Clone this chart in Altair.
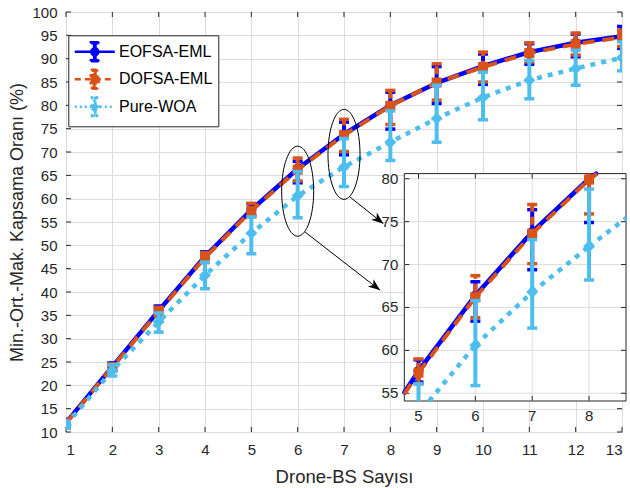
import math
import altair as alt
import pandas as pd

# ---------------- data ----------------
x_vals = list(range(1, 14))
series_names = ["EOFSA-EML", "DOFSA-EML", "Pure-WOA"]

eofsa_mean = [12.0, 24.0, 36.0, 47.6, 57.6, 66.4, 73.8, 80.0, 84.8, 88.4, 91.4, 93.4, 94.8]
eofsa_min = [11.3, 23.2, 35.0, 46.5, 56.3, 63.4, 69.4, 74.9, 80.4, 84.5, 88.8, 90.4, 92.2]
eofsa_max = [12.7, 24.8, 37.0, 48.6, 58.9, 68.0, 76.4, 82.8, 88.3, 91.0, 93.2, 95.3, 96.9]

dofsa_mean = [11.9, 23.9, 35.8, 47.4, 57.4, 66.2, 73.6, 79.9, 84.9, 88.2, 91.2, 93.1, 94.6]
dofsa_min = [11.2, 23.1, 34.8, 46.3, 56.1, 63.8, 70.1, 75.9, 81.1, 85.0, 89.3, 90.8, 92.6]
dofsa_max = [12.6, 24.6, 36.7, 48.4, 59.0, 68.7, 77.0, 83.2, 88.9, 91.4, 93.4, 95.5, 96.1]

woa_mean = [11.5, 23.2, 33.6, 43.6, 52.6, 60.6, 66.8, 72.1, 77.2, 81.7, 85.4, 87.9, 90.2]
woa_min = [10.8, 22.0, 31.4, 40.7, 48.2, 55.9, 62.6, 68.2, 72.1, 76.9, 81.4, 84.3, 87.4]
woa_max = [12.3, 24.4, 35.5, 46.4, 56.1, 65.8, 72.9, 78.8, 84.3, 87.1, 89.6, 91.8, 93.6]

x_ticks = list(range(1, 14))
y_ticks = list(range(10, 101, 5))
inset_x_ticks = [5, 6, 7, 8]
inset_y_ticks = [55, 60, 65, 70, 75, 80]

# annotations (data coordinates of the main axes)
ellipse_x = [6, 7]
ellipse_y = [61.6, 69.5]
arrow_x0 = [6.16, 7.13]
arrow_y0 = [52.85, 60.35]
arrow_x1 = [7.78, 7.85]
arrow_y1 = [40.36, 54.65]

# ---------------- layout / style ----------------
W, H = 556, 420
XDOM = [1, 13]
YDOM = [10, 100]
IX = [4.75, 8.65]
IY = [54.1, 80.6]
IXR = [338.3, 560]
IYR = [389, 161.6]
FONT = "Liberation Sans"
TXT = "#262626"
GRID = "#dcdcdc"

STY = {
    "EOFSA-EML": dict(color="#0000ff", width=4.5, dash=None, bar_dash=None, shape="circle", size=100),
    "DOFSA-EML": dict(color="#d95319", width=4, dash=[12, 8], bar_dash=[8, 5], shape="square", size=100),
    "Pure-WOA": dict(color="#4dbeee", width=4.5, dash=[5, 6], bar_dash=None, shape="diamond", size=144),
}

frames = {
    "EOFSA-EML": pd.DataFrame({"x": x_vals, "m": eofsa_mean, "lo": eofsa_min, "hi": eofsa_max}),
    "DOFSA-EML": pd.DataFrame({"x": x_vals, "m": dofsa_mean, "lo": dofsa_min, "hi": dofsa_max}),
    "Pure-WOA": pd.DataFrame({"x": x_vals, "m": woa_mean, "lo": woa_min, "hi": woa_max}),
}

xs = alt.Scale(domain=XDOM, range=[0, W], nice=False, zero=False)
ys = alt.Scale(domain=YDOM, range=[H, 0], nice=False, zero=False)
ixs = alt.Scale(domain=IX, range=IXR, nice=False, zero=False)
iys = alt.Scale(domain=IY, range=IYR, nice=False, zero=False)


def MX(f):
    return alt.X(f"{f}:Q", scale=xs, axis=None)


def MY(f):
    return alt.Y(f"{f}:Q", scale=ys, axis=None)


def IXe(f):
    return alt.X(f"{f}:Q", scale=ixs, axis=None)


def IYe(f):
    return alt.Y(f"{f}:Q", scale=iys, axis=None)


def fmt(v):
    return f"{v:.3f}"


def ellipse_path(cx, cy, rx, ry):
    k = 0.5523
    p = [
        f"M{fmt(cx)},{fmt(cy - ry)}",
        f"C{fmt(cx + k * rx)},{fmt(cy - ry)} {fmt(cx + rx)},{fmt(cy - k * ry)} {fmt(cx + rx)},{fmt(cy)}",
        f"C{fmt(cx + rx)},{fmt(cy + k * ry)} {fmt(cx + k * rx)},{fmt(cy + ry)} {fmt(cx)},{fmt(cy + ry)}",
        f"C{fmt(cx - k * rx)},{fmt(cy + ry)} {fmt(cx - rx)},{fmt(cy + k * ry)} {fmt(cx - rx)},{fmt(cy)}",
        f"C{fmt(cx - rx)},{fmt(cy - k * ry)} {fmt(cx - k * rx)},{fmt(cy - ry)} {fmt(cx)},{fmt(cy - ry)} Z",
    ]
    return " ".join(p)


def rect_path(x0, y0, x1, y1):
    return f"M{fmt(x0)},{fmt(y0)} L{fmt(x1)},{fmt(y0)} L{fmt(x1)},{fmt(y1)} L{fmt(x0)},{fmt(y1)} Z"


def legend_path(marker):
    # units: 10 px; symbol box spans -1..1, line runs -1..3
    parts = ["M-1,0 L3,0",
             rect_path(0.93, -0.9, 1.07, 0.9),
             rect_path(0.6, -0.95, 1.4, -0.85),
             rect_path(0.6, 0.85, 1.4, 0.95)]
    if marker == "circle":
        parts.append(ellipse_path(1, 0, 0.35, 0.35))
    elif marker == "square":
        parts.append(rect_path(0.6, -0.4, 1.4, 0.4))
    else:
        parts.append("M1,-0.45 L1.45,0 L1,0.45 L0.55,0 Z")
    return " ".join(parts)


def line_kw(s):
    k = dict(color=s["color"], strokeWidth=s["width"], strokeJoin="round")
    if s["dash"]:
        k["strokeDash"] = s["dash"]
    return k


def bar_kw(s):
    k = dict(color=s["color"], strokeWidth=4)
    if s["bar_dash"]:
        k["strokeDash"] = s["bar_dash"]
    return k


# ---------------- main axes ----------------
tick_df_x = pd.DataFrame({"t": x_ticks})
tick_df_y = pd.DataFrame({"t": y_ticks})

x_axis = alt.Axis(
    values=x_ticks, format="d", grid=True, gridColor=GRID, gridWidth=1,
    ticks=False, tickSize=0, domain=False, labelFontSize=15, labelColor=TXT,
    labelPadding=10, title="Drone-BS Sayısı", titleFontSize=18.5, titleColor=TXT,
    titleFontWeight="normal", titlePadding=10, orient="bottom")
y_axis = alt.Axis(
    values=y_ticks, format="d", grid=True, gridColor=GRID, gridWidth=1,
    ticks=False, tickSize=0, domain=False, labelFontSize=15, labelColor=TXT,
    labelPadding=9, title="Min.-Ort.-Mak. Kapsama Oranı (%)", titleFontSize=18,
    titleColor=TXT, titleFontWeight="normal", titlePadding=5, orient="left")

bottom_ticks = alt.Chart(tick_df_x).mark_tick(
    orient="vertical", size=5, thickness=1, color=TXT, opacity=1, yOffset=-2.5
).encode(x=alt.X("t:Q", scale=xs, axis=x_axis), y=alt.Y(datum=YDOM[0], scale=ys, axis=None))
top_ticks = alt.Chart(tick_df_x).mark_tick(
    orient="vertical", size=5, thickness=1, color=TXT, opacity=1, yOffset=2.5
).encode(x=MX("t"), y=alt.Y(datum=YDOM[1], scale=ys, axis=None))
left_ticks = alt.Chart(tick_df_y).mark_tick(
    orient="horizontal", size=5, thickness=1, color=TXT, opacity=1, xOffset=2.5
).encode(x=alt.X(datum=XDOM[0], scale=xs, axis=None), y=alt.Y("t:Q", scale=ys, axis=y_axis))
right_ticks = alt.Chart(tick_df_y).mark_tick(
    orient="horizontal", size=5, thickness=1, color=TXT, opacity=1, xOffset=-2.5
).encode(x=alt.X(datum=XDOM[1], scale=xs, axis=None), y=MY("t"))


def main_series(name):
    s = STY[name]
    base = alt.Chart(frames[name])
    line = base.mark_line(clip=True, **line_kw(s)).encode(x=MX("x"), y=MY("m"))
    bar = base.mark_rule(clip=True, **bar_kw(s)).encode(x=MX("x"), y=MY("lo"), y2="hi:Q")
    caps = base.transform_fold(["lo", "hi"], as_=["k", "v"]).mark_tick(
        orient="horizontal", size=10, thickness=3.5, color=s["color"], opacity=1, clip=True
    ).encode(x=MX("x"), y=MY("v"))
    mk = base.mark_point(filled=True, shape=s["shape"], size=s["size"], color=s["color"],
                         opacity=1, clip=True).encode(x=MX("x"), y=MY("m"))
    return [line, bar, caps, mk]


# annotations
px_x = W / (XDOM[1] - XDOM[0])
px_y = H / (YDOM[1] - YDOM[0])
angles = [math.degrees(math.atan2(-(b1 - b0) * px_y, (a1 - a0) * px_x))
          for a0, b0, a1, b1 in zip(arrow_x0, arrow_y0, arrow_x1, arrow_y1)]
ell = alt.Chart(pd.DataFrame({"x": ellipse_x, "y": ellipse_y})).mark_point(
    shape=ellipse_path(0, 0, 0.356, 1), size=8100, filled=False, color="black",
    strokeWidth=1, opacity=1
).encode(x=MX("x"), y=MY("y"))
arr_df = pd.DataFrame({"x0": arrow_x0, "y0": arrow_y0, "x1": arrow_x1, "y1": arrow_y1, "ang": angles})
arr_line = alt.Chart(arr_df).mark_rule(color="black", strokeWidth=1).encode(
    x=MX("x0"), y=MY("y0"), x2="x1:Q", y2="y1:Q")
arr_head = alt.Chart(arr_df).mark_point(
    shape="M0,0 L-1,-0.38 L-0.72,0 L-1,0.38 Z", size=576, filled=True, color="black", opacity=1
).encode(x=MX("x1"), y=MY("y1"), angle=alt.Angle("ang:Q", scale=None))

# legend (symbols only, no rows drawn)
leg = alt.Legend(title=None, orient="none", legendX=2.3, legendY=23.3, symbolSize=400,
                 symbolStrokeWidth=2.5, labelFont=FONT, labelFontSize=16, labelColor="black",
                 labelOffset=22.7, padding=5, rowPadding=-1.5, strokeColor=TXT,
                 fillColor="white", symbolOpacity=1, cornerRadius=0)
colors = [STY[n]["color"] for n in series_names]
legend_layer = alt.Chart(pd.DataFrame({"series": series_names})).transform_filter("false").mark_point(
    filled=True, opacity=1
).encode(
    fill=alt.Fill("series:N", scale=alt.Scale(domain=series_names, range=colors), legend=leg),
    stroke=alt.Stroke("series:N", scale=alt.Scale(domain=series_names, range=colors), legend=leg),
    shape=alt.Shape("series:N", scale=alt.Scale(
        domain=series_names, range=[legend_path(STY[n]["shape"]) for n in series_names]), legend=leg),
    strokeDash=alt.StrokeDash("series:N", scale=alt.Scale(
        domain=series_names, range=[[1, 0], [6, 4], [2, 3]]), legend=leg),
)

layers = [bottom_ticks, left_ticks, top_ticks, right_ticks]
for n in series_names:
    layers += main_series(n)
layers += [ell, arr_line, arr_head, legend_layer]

# ---------------- inset ----------------
one = pd.DataFrame({"a": [0]})
inset_bg = alt.Chart(one).mark_rect(fill="white", stroke=TXT, strokeWidth=1).encode(
    x=alt.X(datum=IX[0], scale=ixs, axis=None), x2=alt.X2(datum=IX[1]),
    y=alt.Y(datum=IY[0], scale=iys, axis=None), y2=alt.Y2(datum=IY[1]))
itx = pd.DataFrame({"t": inset_x_ticks})
ity = pd.DataFrame({"t": inset_y_ticks})
igx = alt.Chart(itx).mark_rule(color=GRID, strokeWidth=1).encode(
    x=IXe("t"), y=alt.Y(datum=IY[0], scale=iys, axis=None), y2=alt.Y2(datum=IY[1]))
igy = alt.Chart(ity).mark_rule(color=GRID, strokeWidth=1).encode(
    y=IYe("t"), x=alt.X(datum=IX[0], scale=ixs, axis=None), x2=alt.X2(datum=IX[1]))
itb = alt.Chart(itx).mark_tick(orient="vertical", size=5, thickness=1, color=TXT, opacity=1,
                               yOffset=-2.5).encode(x=IXe("t"), y=alt.Y(datum=IY[0], scale=iys, axis=None))
itt = alt.Chart(itx).mark_tick(orient="vertical", size=5, thickness=1, color=TXT, opacity=1,
                               yOffset=2.5).encode(x=IXe("t"), y=alt.Y(datum=IY[1], scale=iys, axis=None))
itl = alt.Chart(ity).mark_tick(orient="horizontal", size=5, thickness=1, color=TXT, opacity=1,
                               xOffset=2.5).encode(y=IYe("t"), x=alt.X(datum=IX[0], scale=ixs, axis=None))
itr = alt.Chart(ity).mark_tick(orient="horizontal", size=5, thickness=1, color=TXT, opacity=1,
                               xOffset=-2.5).encode(y=IYe("t"), x=alt.X(datum=IX[1], scale=ixs, axis=None))
ixl = alt.Chart(itx).mark_text(dy=15, fontSize=15, font=FONT, color=TXT, baseline="middle").encode(
    x=IXe("t"), y=alt.Y(datum=IY[0], scale=iys, axis=None), text="t:Q")
iyl = alt.Chart(ity).mark_text(dx=-6, fontSize=15, font=FONT, color=TXT, align="right",
                               baseline="middle").encode(
    y=IYe("t"), x=alt.X(datum=IX[0], scale=ixs, axis=None), text="t:Q")

in_x = f"datum.x >= {IX[0]} && datum.x <= {IX[1]}"


def inset_series(name):
    s = STY[name]
    base = alt.Chart(frames[name])
    seg = (base
           .transform_window(xn="lead(x)", yn="lead(m)", sort=[alt.SortField("x")])
           .transform_filter("isValid(datum.xn)")
           .transform_calculate(dx="datum.xn - datum.x", dy="datum.yn - datum.m")
           .transform_calculate(
               ta=f"({IX[0]} - datum.x) / datum.dx", tb=f"({IX[1]} - datum.x) / datum.dx",
               tc=f"({IY[0]} - datum.m) / datum.dy", td=f"({IY[1]} - datum.m) / datum.dy")
           .transform_calculate(
               t0="max(0, min(datum.ta, datum.tb), min(datum.tc, datum.td))",
               t1="min(1, max(datum.ta, datum.tb), max(datum.tc, datum.td))")
           .transform_filter("datum.t0 < datum.t1")
           .transform_calculate(
               xa="datum.x + datum.t0 * datum.dx", ya="datum.m + datum.t0 * datum.dy",
               xb="datum.x + datum.t1 * datum.dx", yb="datum.m + datum.t1 * datum.dy")
           )
    lk = line_kw(s)
    lk["strokeCap"] = "round" if not s["dash"] else "butt"
    seg = seg.mark_rule(**lk).encode(x=IXe("xa"), y=IYe("ya"), x2="xb:Q", y2="yb:Q")
    bar = (base.transform_filter(in_x)
           .transform_calculate(lc=f"max(datum.lo, {IY[0]})", hc=f"min(datum.hi, {IY[1]})")
           .transform_filter("datum.lc < datum.hc")
           .mark_rule(**bar_kw(s)).encode(x=IXe("x"), y=IYe("lc"), y2="hc:Q"))
    caps = (base.transform_fold(["lo", "hi"], as_=["k", "v"])
            .transform_filter(in_x)
            .transform_filter(f"datum.v >= {IY[0]} && datum.v <= {IY[1]}")
            .mark_tick(orient="horizontal", size=10, thickness=3.5, color=s["color"], opacity=1)
            .encode(x=IXe("x"), y=IYe("v")))
    mk = (base.transform_filter(in_x)
          .transform_filter(f"datum.m >= {IY[0]} && datum.m <= {IY[1]}")
          .mark_point(filled=True, shape=s["shape"], size=s["size"], color=s["color"], opacity=1)
          .encode(x=IXe("x"), y=IYe("m")))
    return [seg, bar, caps, mk]


layers += [inset_bg, igx, igy, itb, itt, itl, itr, ixl, iyl]
for n in series_names:
    layers += inset_series(n)

chart = alt.layer(*layers).resolve_scale(x="independent", y="independent").properties(
    width=W, height=H,
    autosize=alt.AutoSizeParams(type="none"),
    padding={"left": 66, "top": 12, "right": 8, "bottom": 56},
    background="white",
).configure_view(stroke=TXT, strokeWidth=1).configure_axis(
    labelFont=FONT, titleFont=FONT
).configure_text(font=FONT)

chart.save("out.html", embed_options={"renderer": "svg", "actions": False})
